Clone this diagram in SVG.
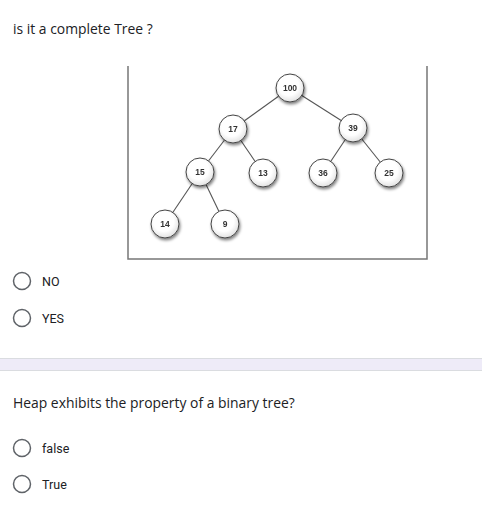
<svg xmlns="http://www.w3.org/2000/svg" width="482" height="507" viewBox="0 0 482 507">
<style>
.q{font-family:"Open Sans",sans-serif;font-size:13.9px;fill:#202124}
.o{font-family:Roboto,"Liberation Sans",sans-serif;font-size:12.5px;fill:#202124}
.radio{fill:#fff;stroke:#5f6368;stroke-width:1.5}
.node circle{fill:url(#g);stroke:#444;stroke-width:1}
.node text{font-family:"Liberation Sans",Arial,sans-serif;font-size:8.5px;font-weight:bold;fill:#333;text-anchor:middle}
.edge{stroke:#555;stroke-width:1.1}
</style>
<defs>
<radialGradient id="g" cx="0.45" cy="0.4" r="0.6"><stop offset="0.6" stop-color="#fff"/><stop offset="1" stop-color="#e2e2e2"/></radialGradient>
<filter id="sh" x="-30%" y="-30%" width="170%" height="170%"><feGaussianBlur in="SourceAlpha" stdDeviation="1.5"/><feOffset dx="1" dy="2"/><feComponentTransfer><feFuncA type="linear" slope="0.5"/></feComponentTransfer><feMerge><feMergeNode/><feMergeNode in="SourceGraphic"/></feMerge></filter>
</defs>
<rect width="482" height="507" fill="#fff"/>
<text class="q" x="13" y="34">is it a complete Tree ?</text>
<g id="frame" fill="none" stroke="#777" stroke-width="1.5">
<polyline points="128,66 128,259 427,259 427,66"/>
</g>
<g id="connectors">
<line class="edge" x1="290" y1="88" x2="233" y2="129"/>
<line class="edge" x1="290" y1="88" x2="353" y2="128"/>
<line class="edge" x1="233" y1="129" x2="200" y2="172"/>
<line class="edge" x1="233" y1="129" x2="263" y2="173"/>
<line class="edge" x1="353" y1="128" x2="323" y2="173"/>
<line class="edge" x1="353" y1="128" x2="389" y2="173"/>
<line class="edge" x1="200" y1="172" x2="165" y2="224"/>
<line class="edge" x1="200" y1="172" x2="225" y2="224"/>
</g>
<g id="n100" class="node" filter="url(#sh)"><circle cx="290" cy="88" r="14"/><text x="290" y="91">100</text></g>
<g id="n17" class="node" filter="url(#sh)"><circle cx="233" cy="129" r="14"/><text x="233" y="132">17</text></g>
<g id="n39" class="node" filter="url(#sh)"><circle cx="353" cy="128" r="14"/><text x="353" y="131">39</text></g>
<g id="n15" class="node" filter="url(#sh)"><circle cx="200" cy="172" r="14"/><text x="200" y="175">15</text></g>
<g id="n13" class="node" filter="url(#sh)"><circle cx="263" cy="173" r="14"/><text x="263" y="176">13</text></g>
<g id="n36" class="node" filter="url(#sh)"><circle cx="323" cy="173" r="14"/><text x="323" y="176">36</text></g>
<g id="n25" class="node" filter="url(#sh)"><circle cx="389" cy="173" r="14"/><text x="389" y="176">25</text></g>
<g id="n14" class="node" filter="url(#sh)"><circle cx="165" cy="224" r="14"/><text x="165" y="227">14</text></g>
<g id="n9" class="node" filter="url(#sh)"><circle cx="225" cy="224" r="14"/><text x="225" y="227">9</text></g>
<circle class="radio" cx="22" cy="281" r="8.5"/>
<text class="o" x="42" y="285.5">NO</text>
<circle class="radio" cx="22" cy="318" r="8.5"/>
<text class="o" x="42" y="322.5">YES</text>
<rect x="-1" y="358.5" width="484" height="12" fill="#eeebf8" stroke="#dadce0" stroke-width="1"/>
<text class="q" x="13" y="408">Heap exhibits the property of a binary tree?</text>
<circle class="radio" cx="22" cy="448" r="8.5"/>
<text class="o" x="42" y="452.5">false</text>
<circle class="radio" cx="22" cy="484" r="8.5"/>
<text class="o" x="42" y="488.5">True</text>
</svg>
